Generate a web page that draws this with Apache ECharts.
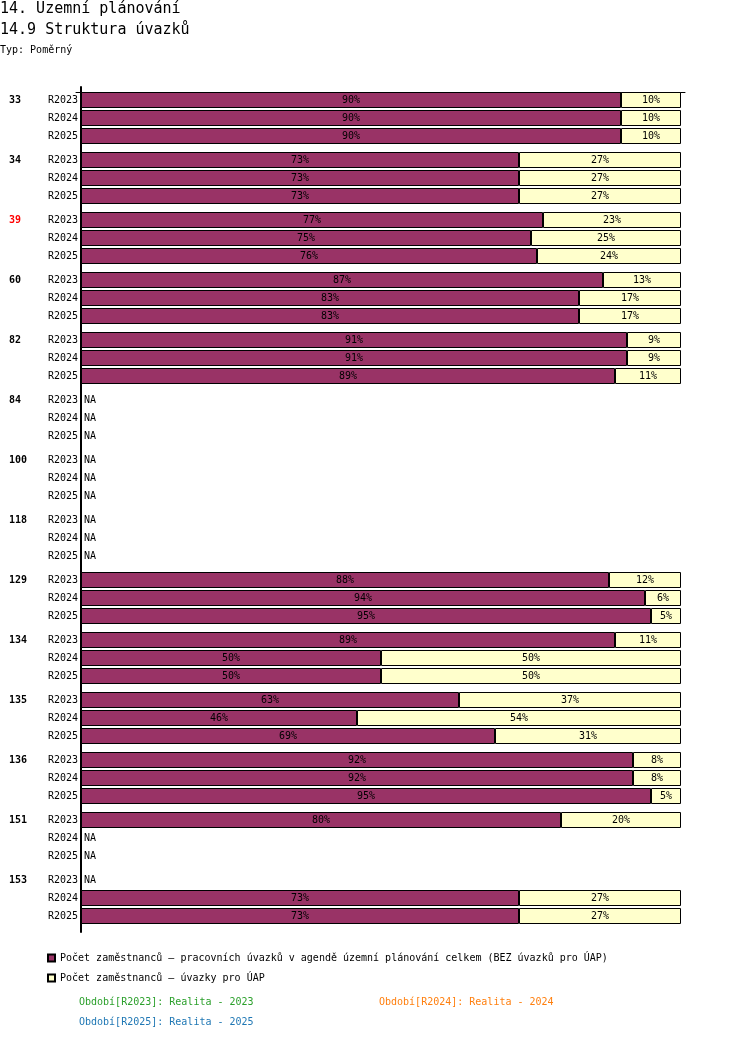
<!DOCTYPE html>
<html>
<head>
<meta charset="utf-8">
<script src="https://cdn.jsdelivr.net/npm/echarts@6/dist/echarts.min.js"></script>
<style>html,body{margin:0;padding:0;background:#fff}#c{width:750px;height:1062px}</style>
</head>
<body>
<div id="c"></div>
<script>
var groups = ['33','34','39','60','82','84','100','118','129','134','135','136','151','153'];
var years = ['R2023','R2024','R2025'];
var highlighted = ['39'];
var darkValues = [
  [90,90,90],[73,73,73],[77,75,76],[87,83,83],[91,91,89],
  [null,null,null],[null,null,null],[null,null,null],
  [88,94,95],[89,50,50],[63,46,69],[92,92,95],[80,null,null],[null,73,73]
];
var lightValues = [
  [10,10,10],[27,27,27],[23,25,24],[13,17,17],[9,9,11],
  [null,null,null],[null,null,null],[null,null,null],
  [12,6,5],[11,50,50],[37,54,31],[8,8,5],[20,null,null],[null,27,27]
];
var seriesNames = [
  'Počet zaměstnanců – pracovních úvazků v agendě územní plánování celkem (BEZ úvazků pro ÚAP)',
  'Počet zaměstnanců – úvazky pro ÚAP'
];
var periodTexts = [
  {t:'Období[R2023]: Realita - 2023', c:'#2ca02c'},
  {t:'Období[R2024]: Realita - 2024', c:'#ff7f0e'},
  {t:'Období[R2025]: Realita - 2025', c:'#1f77b4'}
];
var FONT = 'DejaVu Sans Mono';
var colors = ['#993366','#ffffcc'];

var grids = [], xAxes = [], yAxes = [], series = [];
var TOP0 = 91, PITCH = 60, GH = 54;
groups.forEach(function(g, i){
  grids.push({left:81, width:600, top: TOP0 + PITCH*i, height: GH});
  xAxes.push({type:'value', gridIndex:i, min:0, max:100, show:false});
  yAxes.push({type:'category', gridIndex:i, data:years, inverse:true, position:'left',
    axisLine:{show:false}, axisTick:{show:false}, splitLine:{show:false},
    axisLabel:{margin:3, fontSize:10, fontFamily:FONT, color:'#000'}});
  yAxes.push({type:'category', gridIndex:i, data:[g,'',''], inverse:true, position:'left',
    axisLine:{show:false}, axisTick:{show:false}, splitLine:{show:false},
    axisLabel:{margin:72, align:'left', fontSize:10, fontWeight:'bold', fontFamily:FONT,
      color: highlighted.indexOf(g) >= 0 ? '#ff0000' : '#000'}});
  var naData = darkValues[i].map(function(v, k){ return (v == null && lightValues[i][k] == null) ? 0 : null; });
  [darkValues[i], lightValues[i]].forEach(function(arr, s){
    series.push({type:'bar', name: seriesNames[s], xAxisIndex:i, yAxisIndex:2*i, stack:'s'+i,
      data: arr, barWidth:16,
      itemStyle:{color:colors[s], borderColor:'#000', borderWidth:1},
      label:{show:true, position:'inside', formatter:'{c}%', color:'#000', fontSize:10, fontFamily:FONT},
      emphasis:{disabled:true}});
  });
  series.push({type:'bar', name:'NA', xAxisIndex:i, yAxisIndex:2*i, stack:'s'+i,
    data: naData, barWidth:16,
    itemStyle:{color:'transparent', borderWidth:0},
    label:{show:true, position:'right', distance:3, formatter:'NA', color:'#000', fontSize:10, fontFamily:FONT},
    emphasis:{disabled:true}});
});

// frame grid (axis lines)
var fi = groups.length;
grids.push({left:76, width:609, top:87, height:845});
xAxes.push({type:'value', gridIndex:fi, position:'top', offset:-5, min:0, max:1,
  axisLine:{show:true, onZero:false, lineStyle:{color:'#000', width:1}}, axisTick:{show:false}, axisLabel:{show:false}, splitLine:{show:false}});
yAxes.push({type:'value', gridIndex:fi, position:'left', offset:-5, min:0, max:1,
  axisLine:{show:true, onZero:false, lineStyle:{color:'#000', width:2}}, axisTick:{show:false}, axisLabel:{show:false}, splitLine:{show:false}});

var titles = [
  {text:'14. Územní plánování', left:0, top:2, padding:0, textStyle:{fontSize:15, fontWeight:'normal', fontFamily:FONT, color:'#000'}},
  {text:'14.9 Struktura úvazků', left:0, top:23, padding:0, textStyle:{fontSize:15, fontWeight:'normal', fontFamily:FONT, color:'#000'}},
  {text:'Typ: Poměrný', left:0, top:45, padding:0, textStyle:{fontSize:10, fontWeight:'normal', fontFamily:FONT, color:'#000'}},
  {text:periodTexts[0].t, left:79, top:997, padding:0, textStyle:{fontSize:10, fontWeight:'normal', fontFamily:FONT, color:periodTexts[0].c}},
  {text:periodTexts[1].t, left:379, top:997, padding:0, textStyle:{fontSize:10, fontWeight:'normal', fontFamily:FONT, color:periodTexts[1].c}},
  {text:periodTexts[2].t, left:79, top:1017, padding:0, textStyle:{fontSize:10, fontWeight:'normal', fontFamily:FONT, color:periodTexts[2].c}}
];

var chart = echarts.init(document.getElementById('c'));
chart.setOption({
  animation:false,
  title: titles,
  legend:{data:seriesNames, orient:'vertical', left:47, top:952, padding:0, itemWidth:7, itemHeight:7, itemGap:8,
    icon:'rect', selectedMode:false,
    textStyle:{fontSize:10, fontFamily:FONT, color:'#000', lineHeight:12}},
  grid: grids, xAxis: xAxes, yAxis: yAxes, series: series
});
</script>
</body>
</html>
